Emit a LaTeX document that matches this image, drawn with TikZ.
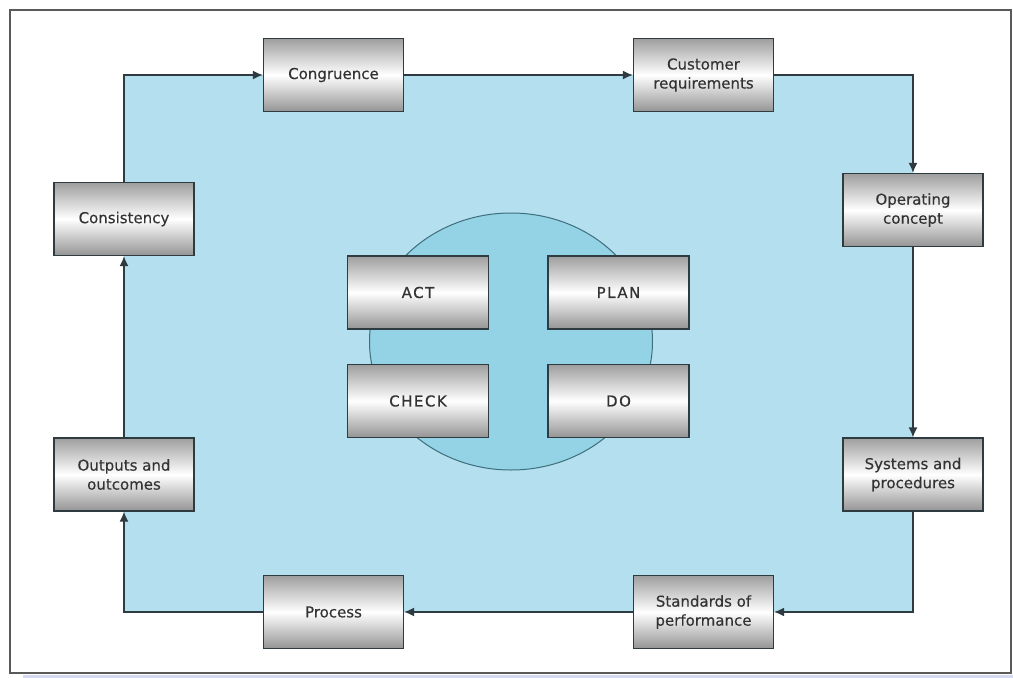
\documentclass[tikz,border=0pt]{standalone}
\usepackage{fontspec}
\setmainfont{DejaVu Sans}[FakeBold=0.3]
\newfontfamily\pdcafont[LetterSpace=10,FakeBold=0.6]{DejaVu Sans}
\usetikzlibrary{arrows.meta}
\definecolor{bluefill}{HTML}{B3DFEF}
\definecolor{circfill}{HTML}{93D3E5}
\definecolor{circline}{HTML}{3F6E7C}
\definecolor{boxline}{HTML}{2E3B40}
\definecolor{txt}{HTML}{333333}
\definecolor{frameline}{HTML}{5A5A5A}
\definecolor{strip}{HTML}{D6DAF0}
\tikzset{
  gbox/.style={draw=boxline, line width=1.3pt, top color=black!38, bottom color=black!42, middle color=white,
    minimum width=140pt, minimum height=73pt, inner sep=2pt, align=center, text=txt,
    font=\fontsize{15}{19}\selectfont},
  pbox/.style={gbox, minimum width=141pt, font=\pdcafont\fontsize{15}{19}\selectfont},
  arr/.style={draw=boxline, line width=1.3pt, -{Latex[length=10pt,width=9pt]}}
}
\begin{document}
\begin{tikzpicture}[x=1pt,y=-1pt]
\useasboundingbox (0,0) rectangle (1013,678);
\fill[white] (0,0) rectangle (1013,678);
\fill[strip] (23,675) rectangle (1013,678);
\draw[frameline, line width=1.6pt] (10,10) rectangle (1011,673);
% blue area
\fill[bluefill] (124,75) rectangle (913,612);
% circle
\filldraw[fill=circfill, draw=circline, line width=1pt] (511,341.5) ellipse [x radius=141.5pt, y radius=128.5pt];
% outer boxes
\node[gbox] (congruence) at (333.5,75) {Congruence};
\node[gbox] (customer) at (703.5,75) {Customer\\requirements};
\node[gbox] (operating) at (913,210) {Operating\\concept};
\node[gbox] (systems) at (913,474.5) {Systems and\\procedures};
\node[gbox] (standards) at (703.5,612) {Standards of\\performance};
\node[gbox] (process) at (333.5,612) {Process};
\node[gbox] (outputs) at (124,474.5) {Outputs and\\outcomes};
\node[gbox] (consistency) at (124,219) {Consistency};
% PDCA
\node[pbox] (act) at (418,292.5) {ACT};
\node[pbox] (plan) at (618.5,292.5) {PLAN};
\node[pbox] (check) at (418,401) {CHECK};
\node[pbox] (do) at (618.5,401) {DO};
% connectors
\draw[arr] (consistency.north) |- (congruence.west);
\draw[arr] (congruence.east) -- (customer.west);
\draw[arr] (customer.east) -| (operating.north);
\draw[arr] (operating.south) -- (systems.north);
\draw[arr] (systems.south) |- (standards.east);
\draw[arr] (standards.west) -- (process.east);
\draw[arr] (process.west) -| (outputs.south);
\draw[arr] (outputs.north) -- (consistency.south);
\end{tikzpicture}
\end{document}
